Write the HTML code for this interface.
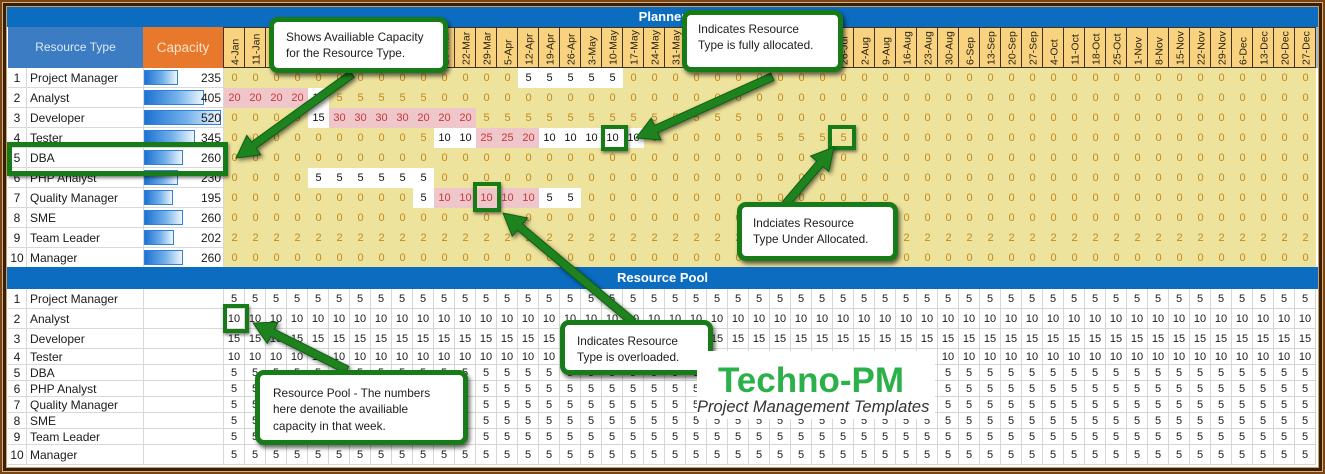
<!DOCTYPE html>
<html><head><meta charset="utf-8">
<style>
*{margin:0;padding:0;box-sizing:border-box}
body{width:1325px;height:474px;overflow:hidden;position:relative;background:#7a4514;font-family:"Liberation Sans",Arial,sans-serif}
.a{position:absolute}
.row{position:absolute;left:224px;width:1092px;display:flex;height:20px;line-height:20px;font-size:11px}
.row i{font-style:normal;width:21px;height:20px;flex:none;text-align:center;color:#c08a1e}
.row i.w{background:#fff;color:#111}
.row i.p{background:#efc6ca;color:#c23b3b}
.q{position:absolute;left:224px;width:1092px;display:flex;font-size:11px;color:#1a1a1a;border-bottom:1px solid #d6d6d6;background:#fff}
.q i{font-style:normal;width:21px;flex:none;text-align:center;border-right:1px solid #d6d6d6}
.lab{position:absolute;left:8px;width:216px;height:20px;line-height:20px;background:#fff;border-bottom:1px solid #d8d8d8;font-size:12px;color:#1a1a1a}
.lab b{position:absolute;left:0;top:0;width:19px;height:100%;text-align:center;font-weight:normal;border-right:1px solid #d8d8d8}
.lab s{position:absolute;left:22px;top:0;text-decoration:none}
.lab u{position:absolute;left:135px;top:0;width:81px;height:100%;border-left:1px solid #d8d8d8;border-right:1px solid #d8d8d8}
.lab em{position:absolute;left:136px;top:2px;height:15px;border:1px solid #2f80d8;background:linear-gradient(90deg,#1d72d2,#73b0ea 55%,#eef5fd)}
.lab span{position:absolute;right:3px;top:0}
.hd{position:absolute;top:27px;left:223px;width:1093px;height:41px;display:flex;border-top:1px solid #3d3321;border-bottom:1px solid #3d3321;border-left:1px solid #3d3321;background:#f8d27f}
.hd i{flex:none;width:21px;height:100%;border-right:1px solid #3d3321}
.co{position:absolute;background:#fff;border:5px solid #177b17;border-radius:9px;box-shadow:2px 3px 4px rgba(0,0,0,.6);font-size:11.8px;line-height:16px;color:#1c1c1c;white-space:nowrap}
.hl{position:absolute;border:4px solid #177b17;box-shadow:1px 2px 3px rgba(0,0,0,.5)}
</style></head><body>
<div class="a" style="left:2px;top:2px;width:1321px;height:470px;background:#d8b07c"></div>
<div class="a" style="left:3px;top:3px;width:1319px;height:468px;background:#3a1f08"></div>
<div class="a" style="left:6px;top:6px;width:1313px;height:462px;background:#c9a06a"></div>
<div class="a" style="left:7px;top:7px;width:1311px;height:460px;background:#fff"></div>

<!-- top band -->
<div class="a" style="left:7px;top:7px;width:1311px;height:20px;background:#0b6cc0;color:#fff;font-weight:bold;font-size:13px;line-height:20px;text-align:center">Planner</div>
<div class="a" style="left:8px;top:27px;width:135px;height:41px;background:#3b7cc2;color:#dce9f6;font-size:12px;line-height:41px;text-align:center">Resource Type</div>
<div class="a" style="left:143px;top:27px;width:80px;height:41px;background:#e8792c;color:#fde2ca;font-size:13.5px;line-height:41px;text-align:center">Capacity</div>
<div class="hd"><i></i><i></i><i></i><i></i><i></i><i></i><i></i><i></i><i></i><i></i><i></i><i></i><i></i><i></i><i></i><i></i><i></i><i></i><i></i><i></i><i></i><i></i><i></i><i></i><i></i><i></i><i></i><i></i><i></i><i></i><i></i><i></i><i></i><i></i><i></i><i></i><i></i><i></i><i></i><i></i><i></i><i></i><i></i><i></i><i></i><i></i><i></i><i></i><i></i><i></i><i></i><i></i></div>
<div class="a" style="left:1316px;top:27px;width:2px;height:41px;background:#a9b8c8"></div>

<svg class="a" style="left:0;top:0" width="1325" height="474">
<g transform="rotate(-90)" font-family="Liberation Sans, Arial, sans-serif" font-size="10.5" fill="#2a2410">
<text x="-65" y="238.5">4-Jan</text><text x="-65" y="259.5">11-Jan</text><text x="-65" y="280.5">18-Jan</text><text x="-65" y="301.5">25-Jan</text><text x="-65" y="322.5">1-Feb</text><text x="-65" y="343.5">8-Feb</text><text x="-65" y="364.5">15-Feb</text><text x="-65" y="385.5">22-Feb</text><text x="-65" y="406.5">1-Mar</text><text x="-65" y="427.5">8-Mar</text>
<text x="-65" y="448.5">15-Mar</text><text x="-65" y="469.5">22-Mar</text><text x="-65" y="490.5">29-Mar</text><text x="-65" y="511.5">5-Apr</text><text x="-65" y="532.5">12-Apr</text><text x="-65" y="553.5">19-Apr</text><text x="-65" y="574.5">26-Apr</text><text x="-65" y="595.5">3-May</text><text x="-65" y="616.5">10-May</text><text x="-65" y="637.5">17-May</text>
<text x="-65" y="658.5">24-May</text><text x="-65" y="679.5">31-May</text><text x="-65" y="700.5">7-Jun</text><text x="-65" y="721.5">14-Jun</text><text x="-65" y="742.5">21-Jun</text><text x="-65" y="763.5">28-Jun</text><text x="-65" y="784.5">5-Jul</text><text x="-65" y="805.5">12-Jul</text><text x="-65" y="826.5">19-Jul</text><text x="-65" y="847.5">26-Jul</text>
<text x="-65" y="868.5">2-Aug</text><text x="-65" y="889.5">9-Aug</text><text x="-65" y="910.5">16-Aug</text><text x="-65" y="931.5">23-Aug</text><text x="-65" y="952.5">30-Aug</text><text x="-65" y="973.5">6-Sep</text><text x="-65" y="994.5">13-Sep</text><text x="-65" y="1015.5">20-Sep</text><text x="-65" y="1036.5">27-Sep</text><text x="-65" y="1057.5">4-Oct</text>
<text x="-65" y="1078.5">11-Oct</text><text x="-65" y="1099.5">18-Oct</text><text x="-65" y="1120.5">25-Oct</text><text x="-65" y="1141.5">1-Nov</text><text x="-65" y="1162.5">8-Nov</text><text x="-65" y="1183.5">15-Nov</text><text x="-65" y="1204.5">22-Nov</text><text x="-65" y="1225.5">29-Nov</text><text x="-65" y="1246.5">6-Dec</text><text x="-65" y="1267.5">13-Dec</text>
<text x="-65" y="1288.5">20-Dec</text><text x="-65" y="1309.5">27-Dec</text>
</g></svg>

<!-- planner labels -->
<div class="lab" style="top:68px"><b>1</b><s>Project Manager</s><u></u><em style="width:34px"></em><span>235</span></div>
<div class="lab" style="top:88px"><b>2</b><s>Analyst</s><u></u><em style="width:60px"></em><span>405</span></div>
<div class="lab" style="top:108px"><b>3</b><s>Developer</s><u></u><em style="width:77px"></em><span>520</span></div>
<div class="lab" style="top:128px"><b>4</b><s>Tester</s><u></u><em style="width:51px"></em><span>345</span></div>
<div class="lab" style="top:148px"><b>5</b><s>DBA</s><u></u><em style="width:39px"></em><span>260</span></div>
<div class="lab" style="top:168px"><b>6</b><s>PHP Analyst</s><u></u><em style="width:34px"></em><span>230</span></div>
<div class="lab" style="top:188px"><b>7</b><s>Quality Manager</s><u></u><em style="width:29px"></em><span>195</span></div>
<div class="lab" style="top:208px"><b>8</b><s>SME</s><u></u><em style="width:39px"></em><span>260</span></div>
<div class="lab" style="top:228px"><b>9</b><s>Team Leader</s><u></u><em style="width:30px"></em><span>202</span></div>
<div class="lab" style="top:248px"><b>10</b><s>Manager</s><u></u><em style="width:39px"></em><span>260</span></div>

<!-- planner data -->
<div class="a" style="left:224px;top:68px;width:1092px;height:199px;background:#eee39c"></div>
<div class="row" style="top:68px">
<i>0</i><i>0</i><i>0</i><i>0</i><i>0</i><i>0</i><i>0</i><i>0</i><i>0</i><i>0</i>
<i>0</i><i>0</i><i>0</i><i>0</i>
<i class=w>5</i><i class=w>5</i><i class=w>5</i><i class=w>5</i><i class=w>5</i>
<i>0</i><i>0</i><i>0</i><i>0</i><i>0</i><i>0</i><i>0</i><i>0</i><i>0</i><i>0</i>
<i>0</i><i>0</i><i>0</i><i>0</i><i>0</i><i>0</i><i>0</i><i>0</i><i>0</i><i>0</i>
<i>0</i><i>0</i><i>0</i><i>0</i><i>0</i><i>0</i><i>0</i><i>0</i><i>0</i><i>0</i>
<i>0</i><i>0</i><i>0</i>
</div>
<div class="row" style="top:88px">
<i class=p>20</i><i class=p>20</i><i class=p>20</i><i class=p>20</i>
<i class=w>10</i>
<i>5</i><i>5</i><i>5</i><i>5</i><i>5</i>
<i>0</i><i>0</i><i>0</i><i>0</i><i>0</i><i>0</i><i>0</i><i>0</i><i>0</i><i>0</i>
<i>0</i><i>0</i><i>0</i><i>0</i><i>0</i><i>0</i><i>0</i><i>0</i><i>0</i><i>0</i>
<i>0</i><i>0</i><i>0</i><i>0</i><i>0</i><i>0</i><i>0</i><i>0</i><i>0</i><i>0</i>
<i>0</i><i>0</i><i>0</i><i>0</i><i>0</i><i>0</i><i>0</i><i>0</i><i>0</i><i>0</i>
<i>0</i><i>0</i>
</div>
<div class="row" style="top:108px">
<i>0</i><i>0</i><i>0</i><i>0</i>
<i class=w>15</i>
<i class=p>30</i><i class=p>30</i><i class=p>30</i><i class=p>30</i>
<i class=p>20</i><i class=p>20</i><i class=p>20</i>
<i>5</i><i>5</i><i>5</i><i>5</i><i>5</i><i>5</i><i>5</i><i>5</i><i>5</i><i>5</i>
<i>5</i><i>5</i><i>5</i>
<i>0</i><i>0</i><i>0</i><i>0</i><i>0</i><i>0</i><i>0</i><i>0</i><i>0</i><i>0</i>
<i>0</i><i>0</i><i>0</i><i>0</i><i>0</i><i>0</i><i>0</i><i>0</i><i>0</i><i>0</i>
<i>0</i><i>0</i><i>0</i><i>0</i><i>0</i><i>0</i><i>0</i>
</div>
<div class="row" style="top:128px">
<i>0</i><i>0</i><i>0</i><i>0</i><i>0</i><i>0</i><i>0</i><i>0</i><i>0</i>
<i>5</i>
<i class=w>10</i><i class=w>10</i>
<i class=p>25</i><i class=p>25</i><i class=p>20</i>
<i class=w>10</i><i class=w>10</i><i class=w>10</i><i class=w>10</i><i class=w>10</i>
<i>0</i><i>0</i><i>0</i><i>0</i><i>0</i>
<i>5</i><i>5</i><i>5</i><i>5</i><i>5</i>
<i>0</i><i>0</i><i>0</i><i>0</i><i>0</i><i>0</i><i>0</i><i>0</i><i>0</i><i>0</i>
<i>0</i><i>0</i><i>0</i><i>0</i><i>0</i><i>0</i><i>0</i><i>0</i><i>0</i><i>0</i>
<i>0</i><i>0</i>
</div>
<div class="row" style="top:148px">
<i>0</i><i>0</i><i>0</i><i>0</i><i>0</i><i>0</i><i>0</i><i>0</i><i>0</i><i>0</i>
<i>0</i><i>0</i><i>0</i><i>0</i><i>0</i><i>0</i><i>0</i><i>0</i><i>0</i><i>0</i>
<i>0</i><i>0</i><i>0</i><i>0</i><i>0</i><i>0</i><i>0</i><i>0</i><i>0</i><i>0</i>
<i>0</i><i>0</i><i>0</i><i>0</i><i>0</i><i>0</i><i>0</i><i>0</i><i>0</i><i>0</i>
<i>0</i><i>0</i><i>0</i><i>0</i><i>0</i><i>0</i><i>0</i><i>0</i><i>0</i><i>0</i>
<i>0</i><i>0</i>
</div>
<div class="row" style="top:168px">
<i>0</i><i>0</i><i>0</i><i>0</i>
<i class=w>5</i><i class=w>5</i><i class=w>5</i><i class=w>5</i><i class=w>5</i><i class=w>5</i>
<i>0</i><i>0</i><i>0</i><i>0</i><i>0</i><i>0</i><i>0</i><i>0</i><i>0</i><i>0</i>
<i>0</i><i>0</i><i>0</i><i>0</i><i>0</i><i>0</i><i>0</i><i>0</i><i>0</i><i>0</i>
<i>0</i><i>0</i><i>0</i><i>0</i><i>0</i><i>0</i><i>0</i><i>0</i><i>0</i><i>0</i>
<i>0</i><i>0</i><i>0</i><i>0</i><i>0</i><i>0</i><i>0</i><i>0</i><i>0</i><i>0</i>
<i>0</i><i>0</i>
</div>
<div class="row" style="top:188px">
<i>0</i><i>0</i><i>0</i><i>0</i><i>0</i><i>0</i><i>0</i><i>0</i><i>0</i>
<i class=w>5</i>
<i class=p>10</i><i class=p>10</i><i class=p>10</i><i class=p>10</i><i class=p>10</i>
<i class=w>5</i><i class=w>5</i>
<i>0</i><i>0</i><i>0</i><i>0</i><i>0</i><i>0</i><i>0</i><i>0</i><i>0</i><i>0</i>
<i>0</i><i>0</i><i>0</i><i>0</i><i>0</i><i>0</i><i>0</i><i>0</i><i>0</i><i>0</i>
<i>0</i><i>0</i><i>0</i><i>0</i><i>0</i><i>0</i><i>0</i><i>0</i><i>0</i><i>0</i>
<i>0</i><i>0</i><i>0</i><i>0</i><i>0</i>
</div>
<div class="row" style="top:208px">
<i>0</i><i>0</i><i>0</i><i>0</i><i>0</i><i>0</i><i>0</i><i>0</i><i>0</i><i>0</i>
<i>0</i><i>0</i><i>0</i><i>0</i><i>0</i><i>0</i><i>0</i><i>0</i><i>0</i><i>0</i>
<i>0</i><i>0</i><i>0</i><i>0</i><i>0</i><i>0</i><i>0</i><i>0</i><i>0</i><i>0</i>
<i>0</i><i>0</i><i>0</i><i>0</i><i>0</i><i>0</i><i>0</i><i>0</i><i>0</i><i>0</i>
<i>0</i><i>0</i><i>0</i><i>0</i><i>0</i><i>0</i><i>0</i><i>0</i><i>0</i><i>0</i>
<i>0</i><i>0</i>
</div>
<div class="row" style="top:228px">
<i>2</i><i>2</i><i>2</i><i>2</i><i>2</i><i>2</i><i>2</i><i>2</i><i>2</i><i>2</i>
<i>2</i><i>2</i><i>2</i><i>2</i><i>2</i><i>2</i><i>2</i><i>2</i><i>2</i><i>2</i>
<i>2</i><i>2</i><i>2</i><i>2</i><i>2</i><i>2</i><i>2</i><i>2</i><i>2</i><i>2</i>
<i>2</i><i>2</i><i>2</i><i>2</i><i>2</i><i>2</i><i>2</i><i>2</i><i>2</i><i>2</i>
<i>2</i><i>2</i><i>2</i><i>2</i><i>2</i><i>2</i><i>2</i><i>2</i><i>2</i><i>2</i>
<i>2</i><i>2</i>
</div>
<div class="row" style="top:248px">
<i>0</i><i>0</i><i>0</i><i>0</i><i>0</i><i>0</i><i>0</i><i>0</i><i>0</i><i>0</i>
<i>0</i><i>0</i><i>0</i><i>0</i><i>0</i><i>0</i><i>0</i><i>0</i><i>0</i><i>0</i>
<i>0</i><i>0</i><i>0</i><i>0</i><i>0</i><i>0</i><i>0</i><i>0</i><i>0</i><i>0</i>
<i>0</i><i>0</i><i>0</i><i>0</i><i>0</i><i>0</i><i>0</i><i>0</i><i>0</i><i>0</i>
<i>0</i><i>0</i><i>0</i><i>0</i><i>0</i><i>0</i><i>0</i><i>0</i><i>0</i><i>0</i>
<i>0</i><i>0</i>
</div>

<!-- resource pool band -->
<div class="a" style="left:7px;top:267px;width:1311px;height:22px;background:#0b6cc0;color:#fff;font-weight:bold;font-size:13px;line-height:22px;text-align:center">Resource Pool</div>

<!-- pool labels -->
<div class="lab" style="top:289px;height:20px;line-height:20px"><b>1</b><s>Project Manager</s><u></u></div>
<div class="lab" style="top:309px;height:20px;line-height:20px"><b>2</b><s>Analyst</s><u></u></div>
<div class="lab" style="top:329px;height:20px;line-height:20px"><b>3</b><s>Developer</s><u></u></div>
<div class="lab" style="top:349px;height:16px;line-height:16px"><b>4</b><s>Tester</s><u></u></div>
<div class="lab" style="top:365px;height:16px;line-height:16px"><b>5</b><s>DBA</s><u></u></div>
<div class="lab" style="top:381px;height:16px;line-height:16px"><b>6</b><s>PHP Analyst</s><u></u></div>
<div class="lab" style="top:397px;height:16px;line-height:16px"><b>7</b><s>Quality Manager</s><u></u></div>
<div class="lab" style="top:413px;height:16px;line-height:16px"><b>8</b><s>SME</s><u></u></div>
<div class="lab" style="top:429px;height:16px;line-height:16px"><b>9</b><s>Team Leader</s><u></u></div>
<div class="lab" style="top:445px;height:20px;line-height:20px"><b>10</b><s>Manager</s><u></u></div>

<!-- pool data -->
<div class="q" style="top:289px;height:20px;line-height:20px">
<i>5</i><i>5</i><i>5</i><i>5</i><i>5</i><i>5</i><i>5</i><i>5</i><i>5</i><i>5</i>
<i>5</i><i>5</i><i>5</i><i>5</i><i>5</i><i>5</i><i>5</i><i>5</i><i>5</i><i>5</i>
<i>5</i><i>5</i><i>5</i><i>5</i><i>5</i><i>5</i><i>5</i><i>5</i><i>5</i><i>5</i>
<i>5</i><i>5</i><i>5</i><i>5</i><i>5</i><i>5</i><i>5</i><i>5</i><i>5</i><i>5</i>
<i>5</i><i>5</i><i>5</i><i>5</i><i>5</i><i>5</i><i>5</i><i>5</i><i>5</i><i>5</i>
<i>5</i><i>5</i>
</div>
<div class="q" style="top:309px;height:20px;line-height:20px">
<i>10</i><i>10</i><i>10</i><i>10</i><i>10</i><i>10</i><i>10</i><i>10</i><i>10</i><i>10</i>
<i>10</i><i>10</i><i>10</i><i>10</i><i>10</i><i>10</i><i>10</i><i>10</i><i>10</i><i>10</i>
<i>10</i><i>10</i><i>10</i><i>10</i><i>10</i><i>10</i><i>10</i><i>10</i><i>10</i><i>10</i>
<i>10</i><i>10</i><i>10</i><i>10</i><i>10</i><i>10</i><i>10</i><i>10</i><i>10</i><i>10</i>
<i>10</i><i>10</i><i>10</i><i>10</i><i>10</i><i>10</i><i>10</i><i>10</i><i>10</i><i>10</i>
<i>10</i><i>10</i>
</div>
<div class="q" style="top:329px;height:20px;line-height:20px">
<i>15</i><i>15</i><i>15</i><i>15</i><i>15</i><i>15</i><i>15</i><i>15</i><i>15</i><i>15</i>
<i>15</i><i>15</i><i>15</i><i>15</i><i>15</i><i>15</i><i>15</i><i>15</i><i>15</i><i>15</i>
<i>15</i><i>15</i><i>15</i><i>15</i><i>15</i><i>15</i><i>15</i><i>15</i><i>15</i><i>15</i>
<i>15</i><i>15</i><i>15</i><i>15</i><i>15</i><i>15</i><i>15</i><i>15</i><i>15</i><i>15</i>
<i>15</i><i>15</i><i>15</i><i>15</i><i>15</i><i>15</i><i>15</i><i>15</i><i>15</i><i>15</i>
<i>15</i><i>15</i>
</div>
<div class="q" style="top:349px;height:16px;line-height:16px">
<i>10</i><i>10</i><i>10</i><i>10</i><i>10</i><i>10</i><i>10</i><i>10</i><i>10</i><i>10</i>
<i>10</i><i>10</i><i>10</i><i>10</i><i>10</i><i>10</i><i>10</i><i>10</i><i>10</i><i>10</i>
<i>10</i><i>10</i><i>10</i><i>10</i><i>10</i><i>10</i><i>10</i><i>10</i><i>10</i><i>10</i>
<i>10</i><i>10</i><i>10</i><i>10</i><i>10</i><i>10</i><i>10</i><i>10</i><i>10</i><i>10</i>
<i>10</i><i>10</i><i>10</i><i>10</i><i>10</i><i>10</i><i>10</i><i>10</i><i>10</i><i>10</i>
<i>10</i><i>10</i>
</div>
<div class="q" style="top:365px;height:16px;line-height:16px">
<i>5</i><i>5</i><i>5</i><i>5</i><i>5</i><i>5</i><i>5</i><i>5</i><i>5</i><i>5</i>
<i>5</i><i>5</i><i>5</i><i>5</i><i>5</i><i>5</i><i>5</i><i>5</i><i>5</i><i>5</i>
<i>5</i><i>5</i><i>5</i><i>5</i><i>5</i><i>5</i><i>5</i><i>5</i><i>5</i><i>5</i>
<i>5</i><i>5</i><i>5</i><i>5</i><i>5</i><i>5</i><i>5</i><i>5</i><i>5</i><i>5</i>
<i>5</i><i>5</i><i>5</i><i>5</i><i>5</i><i>5</i><i>5</i><i>5</i><i>5</i><i>5</i>
<i>5</i><i>5</i>
</div>
<div class="q" style="top:381px;height:16px;line-height:16px">
<i>5</i><i>5</i><i>5</i><i>5</i><i>5</i><i>5</i><i>5</i><i>5</i><i>5</i><i>5</i>
<i>5</i><i>5</i><i>5</i><i>5</i><i>5</i><i>5</i><i>5</i><i>5</i><i>5</i><i>5</i>
<i>5</i><i>5</i><i>5</i><i>5</i><i>5</i><i>5</i><i>5</i><i>5</i><i>5</i><i>5</i>
<i>5</i><i>5</i><i>5</i><i>5</i><i>5</i><i>5</i><i>5</i><i>5</i><i>5</i><i>5</i>
<i>5</i><i>5</i><i>5</i><i>5</i><i>5</i><i>5</i><i>5</i><i>5</i><i>5</i><i>5</i>
<i>5</i><i>5</i>
</div>
<div class="q" style="top:397px;height:16px;line-height:16px">
<i>5</i><i>5</i><i>5</i><i>5</i><i>5</i><i>5</i><i>5</i><i>5</i><i>5</i><i>5</i>
<i>5</i><i>5</i><i>5</i><i>5</i><i>5</i><i>5</i><i>5</i><i>5</i><i>5</i><i>5</i>
<i>5</i><i>5</i><i>5</i><i>5</i><i>5</i><i>5</i><i>5</i><i>5</i><i>5</i><i>5</i>
<i>5</i><i>5</i><i>5</i><i>5</i><i>5</i><i>5</i><i>5</i><i>5</i><i>5</i><i>5</i>
<i>5</i><i>5</i><i>5</i><i>5</i><i>5</i><i>5</i><i>5</i><i>5</i><i>5</i><i>5</i>
<i>5</i><i>5</i>
</div>
<div class="q" style="top:413px;height:16px;line-height:16px">
<i>5</i><i>5</i><i>5</i><i>5</i><i>5</i><i>5</i><i>5</i><i>5</i><i>5</i><i>5</i>
<i>5</i><i>5</i><i>5</i><i>5</i><i>5</i><i>5</i><i>5</i><i>5</i><i>5</i><i>5</i>
<i>5</i><i>5</i><i>5</i><i>5</i><i>5</i><i>5</i><i>5</i><i>5</i><i>5</i><i>5</i>
<i>5</i><i>5</i><i>5</i><i>5</i><i>5</i><i>5</i><i>5</i><i>5</i><i>5</i><i>5</i>
<i>5</i><i>5</i><i>5</i><i>5</i><i>5</i><i>5</i><i>5</i><i>5</i><i>5</i><i>5</i>
<i>5</i><i>5</i>
</div>
<div class="q" style="top:429px;height:16px;line-height:16px">
<i>5</i><i>5</i><i>5</i><i>5</i><i>5</i><i>5</i><i>5</i><i>5</i><i>5</i><i>5</i>
<i>5</i><i>5</i><i>5</i><i>5</i><i>5</i><i>5</i><i>5</i><i>5</i><i>5</i><i>5</i>
<i>5</i><i>5</i><i>5</i><i>5</i><i>5</i><i>5</i><i>5</i><i>5</i><i>5</i><i>5</i>
<i>5</i><i>5</i><i>5</i><i>5</i><i>5</i><i>5</i><i>5</i><i>5</i><i>5</i><i>5</i>
<i>5</i><i>5</i><i>5</i><i>5</i><i>5</i><i>5</i><i>5</i><i>5</i><i>5</i><i>5</i>
<i>5</i><i>5</i>
</div>
<div class="q" style="top:445px;height:20px;line-height:20px">
<i>5</i><i>5</i><i>5</i><i>5</i><i>5</i><i>5</i><i>5</i><i>5</i><i>5</i><i>5</i>
<i>5</i><i>5</i><i>5</i><i>5</i><i>5</i><i>5</i><i>5</i><i>5</i><i>5</i><i>5</i>
<i>5</i><i>5</i><i>5</i><i>5</i><i>5</i><i>5</i><i>5</i><i>5</i><i>5</i><i>5</i>
<i>5</i><i>5</i><i>5</i><i>5</i><i>5</i><i>5</i><i>5</i><i>5</i><i>5</i><i>5</i>
<i>5</i><i>5</i><i>5</i><i>5</i><i>5</i><i>5</i><i>5</i><i>5</i><i>5</i><i>5</i>
<i>5</i><i>5</i>
</div>

<!-- highlight boxes -->
<div class="hl" style="left:7px;top:142px;width:221px;height:34px;border-width:5px"></div>
<div class="hl" style="left:601px;top:125px;width:27px;height:26px"></div>
<div class="hl" style="left:828px;top:125px;width:28px;height:25px"></div>
<div class="hl" style="left:473px;top:182px;width:28px;height:30px"></div>
<div class="hl" style="left:223px;top:304px;width:26px;height:29px"></div>

<!-- arrows -->
<svg class="a" style="left:0;top:0;filter:drop-shadow(2px 2px 2px rgba(0,0,0,.55))" width="1325" height="474">
<g fill="#1e821e" stroke="#10600f" stroke-width="1">
<polygon points="354.3,77.2 256.2,148.3 260.8,154.8 236,158 246.8,135.4 251.5,141.9 349.7,70.8"/>
<polygon points="773.9,80.4 657.7,132.7 661.0,139.9 636,138 651.2,118.1 654.5,125.4 770.7,73.1"/>
<polygon points="786.1,209.6 822.8,166.4 828.8,171.6 834,147 810.6,156.0 816.7,161.2 780.0,204.4"/>
<polygon points="635.6,318.9 522.5,224.0 527.6,217.9 503,213 512.2,236.3 517.3,230.2 630.4,325.1"/>
<polygon points="348.8,366.4 274.5,329.2 278.1,322.1 253,323 267.3,343.5 270.9,336.4 345.2,373.6"/>
</g></svg>

<!-- callouts -->
<div class="co" style="left:269px;top:17px;width:179px;height:56px;padding:7px 0 0 12px">Shows Availiable Capacity<br>for the Resource Type.</div>
<div class="co" style="left:682px;top:10px;width:161px;height:62px;padding:6px 0 0 11px">Indicates Resource<br>Type is fully allocated.</div>
<div class="co" style="left:737px;top:202px;width:161px;height:59px;padding:8px 0 0 11px">Indciates Resource<br>Type Under Allocated.</div>
<div class="co" style="left:560px;top:320px;width:153px;height:55px;padding:8px 0 0 12px">Indicates Resource<br>Type is overloaded.</div>
<div class="co" style="left:255px;top:370px;width:213px;height:75px;padding:10px 0 0 13px;line-height:16.4px">Resource Pool - The numbers<br>here denote the availiable<br>capacity in that week.</div>

<!-- logo -->
<div class="a" style="left:697px;top:351px;width:238px;height:68px;background:#fff"></div>
<div class="a" style="left:718px;top:363px;font-size:35px;line-height:35px;font-weight:bold;color:#2bb04a;white-space:nowrap">Techno-PM</div>
<div class="a" style="left:697px;top:399px;font-size:16.5px;line-height:16.5px;font-style:italic;color:#333;white-space:nowrap">Project Management Templates</div>
</body></html>
